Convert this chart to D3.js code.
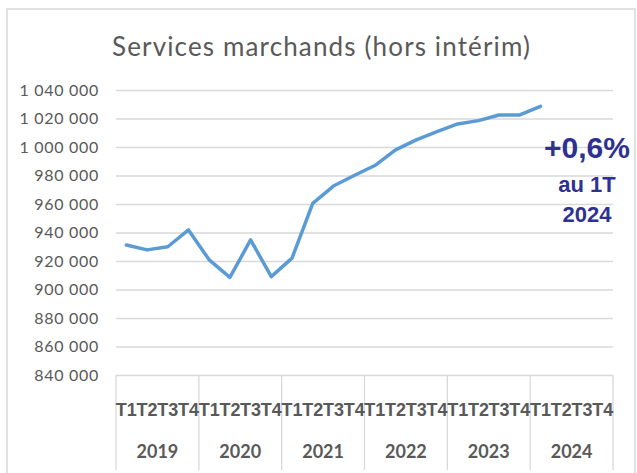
<!DOCTYPE html>
<html><head><meta charset="utf-8">
<script src="https://cdn.jsdelivr.net/npm/d3@7"></script>
<style>body{margin:0;background:#fff}svg{display:block}</style>
</head><body>
<svg id="c" width="637" height="473"></svg>
<script>
const years = ["2019","2020","2021","2022","2023","2024"];
const quarters = ["T1","T2","T3","T4"];
const values = [931200, 927800, 930000, 941800, 920800, 908500, 934800, 909000, 922000, 960500, 972600, 980000, 987000, 998000, 1005000, 1010800, 1016200, 1018500, 1022500, 1022500, 1028500];
const yTicks = [840000,860000,880000,900000,920000,940000,960000,980000,1000000,1020000,1040000];
const title = "Services marchands (hors intérim)";
const note = ["+0,6%","au 1T","2024"];

const svg = d3.select("#c");
const L = 116, R = 613, T = 90, B = 375;
const cats = [];
years.forEach(y => quarters.forEach(q => cats.push(y + "-" + q)));
const x = d3.scaleBand().domain(cats).range([L, R]);
const xYear = d3.scaleBand().domain(years).range([L, R]);
const y = d3.scaleLinear().domain([840000, 1040000]).range([B, T]);

// outer border
svg.append("rect").attr("x", 7).attr("y", 9).attr("width", 628).attr("height", 470)
  .attr("fill", "none").attr("stroke", "#d9d9d9").attr("stroke-width", 1.5);

svg.append("text").attr("x", 321).attr("y", 56).attr("text-anchor", "middle")
  .attr("font-family", "Lato, 'Open Sans', sans-serif").attr("font-size", 26)
  .attr("fill", "#595959").attr("textLength", 418).attr("lengthAdjust", "spacing").text(title);

const fmt = v => d3.format(",")(v).replace(/,/g, " ");
// gridlines
const yAxis = d3.axisLeft(y).tickValues(yTicks).tickSize(-(R - L)).tickFormat(fmt).tickPadding(17);
const gy = svg.append("g").attr("transform", `translate(${L},0)`).call(yAxis);
gy.select(".domain").remove();
gy.selectAll(".tick line").attr("stroke", "#d9d9d9").attr("stroke-width", 1.3);
gy.selectAll(".tick text").attr("font-family", "Lato, sans-serif").attr("font-size", 16)
  .attr("letter-spacing", "0.7px").attr("fill", "#595959");

// x axis separators
const seps = years.map(yy => xYear(yy)).concat([R]);
svg.append("g").selectAll("line").data(seps).join("line")
  .attr("x1", d => d).attr("x2", d => d).attr("y1", B).attr("y2", 470)
  .attr("stroke", "#d9d9d9").attr("stroke-width", 1.3);

const xAxis = d3.axisBottom(x).tickSize(0).tickFormat(d => d.split("-")[1]).tickPadding(0);
const gx = svg.append("g").attr("transform", `translate(0,${B})`).call(xAxis);
gx.select(".domain").remove();
gx.selectAll(".tick text").attr("dy", 0).attr("y", 41)
  .attr("font-family", "'Liberation Sans Narrow', 'Liberation Sans', sans-serif").attr("font-weight", "bold")
  .attr("font-size", 18).attr("fill", "#595959").attr("textLength", 21).attr("lengthAdjust", "spacingAndGlyphs");

svg.append("g").selectAll("text").data(years).join("text")
  .attr("x", d => xYear(d) + xYear.bandwidth() / 2).attr("y", 458).attr("text-anchor", "middle")
  .attr("font-family", "Lato, sans-serif").attr("font-weight", "bold").attr("font-size", 18)
  .attr("fill", "#595959").text(d => d);

const line = d3.line().x((d, i) => x(cats[i]) + x.bandwidth() / 2).y(d => y(d));
svg.append("path").datum(values).attr("d", line).attr("fill", "none")
  .attr("stroke", "#5B9BD5").attr("stroke-width", 3.5).attr("stroke-linejoin", "round").attr("stroke-linecap", "round");

const ny = [158, 192, 222], ns = [30, 22, 22];
svg.append("g").selectAll("text").data(note).join("text")
  .attr("x", 587).attr("y", (d, i) => ny[i]).attr("text-anchor", "middle")
  .attr("font-family", "'Liberation Sans', Arial, sans-serif").attr("font-weight", "bold")
  .attr("font-size", (d, i) => ns[i]).attr("fill", "#2E3192").text(d => d);
</script>
</body></html>
